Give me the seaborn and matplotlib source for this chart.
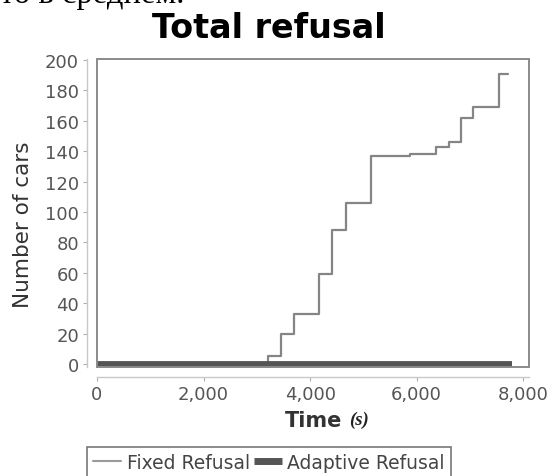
import matplotlib
matplotlib.use("Agg")
import matplotlib.pyplot as plt
import seaborn as sns
import pandas as pd
from matplotlib.patches import Rectangle
from matplotlib.lines import Line2D
from matplotlib.ticker import FuncFormatter

# Data
fixed_time = [0, 3210, 3455, 3700, 4170, 4413, 4676, 5140, 5878, 6366, 6610, 6829, 7054, 7549, 7724]
fixed_cars = [0, 5, 20, 33, 59, 88, 106, 137, 138, 143, 146, 162, 169, 191, 191]
adaptive_time = [0, 7790]
adaptive_cars = [0, 0]
series_names = ["Fixed Refusal", "Adaptive Refusal"]
title_text = "Total refusal"
x_label = "Time"
x_unit = "(s)"
y_label = "Number of cars"
x_ticks = [0, 2000, 4000, 6000, 8000]
y_ticks = list(range(0, 201, 20))

sns.set_theme(style="white")
plt.rcParams['font.family'] = ['DejaVu Sans']

W, H = 548, 477
fig = plt.figure(figsize=(W / 100, H / 100), dpi=100)
ax = fig.add_axes([97 / W, 1 - 368 / H, (529 - 97) / W, (368 - 60) / H])

df_fixed = pd.DataFrame({"t": fixed_time, "v": fixed_cars})
df_adapt = pd.DataFrame({"t": adaptive_time, "v": adaptive_cars})

sns.lineplot(data=df_fixed, x="t", y="v", ax=ax, color="#858585", linewidth=1.6,
             drawstyle="steps-post", estimator=None, sort=False, zorder=3)
sns.lineplot(data=df_adapt, x="t", y="v", ax=ax, color="#555555", linewidth=4.2,
             estimator=None, sort=False, zorder=4, solid_capstyle="butt")

ax.set_xlim(0, 8110)
ax.set_ylim(-2, 200.6)
ax.set_xticks(x_ticks)
ax.set_yticks(y_ticks)
ax.xaxis.set_major_formatter(FuncFormatter(lambda v, p: f"{int(v):,}"))

for s in ["top", "right"]:
    ax.spines[s].set_visible(False)
for s in ["left", "bottom"]:
    ax.spines[s].set_position(("outward", 7))
    ax.spines[s].set_color("#c8c8c8")
    ax.spines[s].set_linewidth(1.0)

ax.tick_params(axis="both", which="major", direction="out", length=3, width=0.8,
               color="#b0b0b0", labelcolor="#555555", labelsize=13, pad=3,
               left=True, bottom=True)

ax.add_patch(Rectangle((0, 0), 1, 1, transform=ax.transAxes, fill=False,
                       edgecolor="#8a8a8a", linewidth=1.4, zorder=5, clip_on=False))

ax.set_xlabel("")
ax.set_ylabel("")
fig.text(23 / W, 1 - 225 / H, y_label, rotation=90, ha="center", va="center",
         fontsize=15.5, color="#333333")

fig.text(342 / W, 1 - 421 / H, x_label, ha="right", va="center", fontsize=15,
         fontweight="bold", color="#333333")
fig.text(349 / W, 1 - 420 / H, x_unit, ha="left", va="center", fontsize=13.5,
         fontweight="bold", fontstyle="italic", family=["Liberation Serif", "DejaVu Serif"],
         color="#222222")

fig.text(269 / W, 1 - 38.5 / H, title_text, ha="center", va="baseline", fontsize=24,
         fontweight="bold", color="black")

fig.text(0, 1 - 3.5 / H, "то в среднем.", ha="left", va="baseline", fontsize=23.5,
         family=["Liberation Serif", "DejaVu Serif"], color="black")

handles = [Line2D([], [], color="#9a9a9a", linewidth=1.5),
           Line2D([], [], color="#555555", linewidth=5, solid_capstyle="butt")]
leg = fig.legend(handles, series_names, loc="upper center",
                 bbox_to_anchor=(269 / W, 1 - 448 / H), ncol=2, frameon=True,
                 fancybox=False, edgecolor="#555555", fontsize=13.5,
                 handlelength=1.5, handletextpad=0.3, columnspacing=0.2,
                 borderpad=0.3, borderaxespad=0)
leg.get_frame().set_linewidth(1.2)
for t in leg.get_texts():
    t.set_color("#444444")

fig.savefig("out.png", dpi=100)
